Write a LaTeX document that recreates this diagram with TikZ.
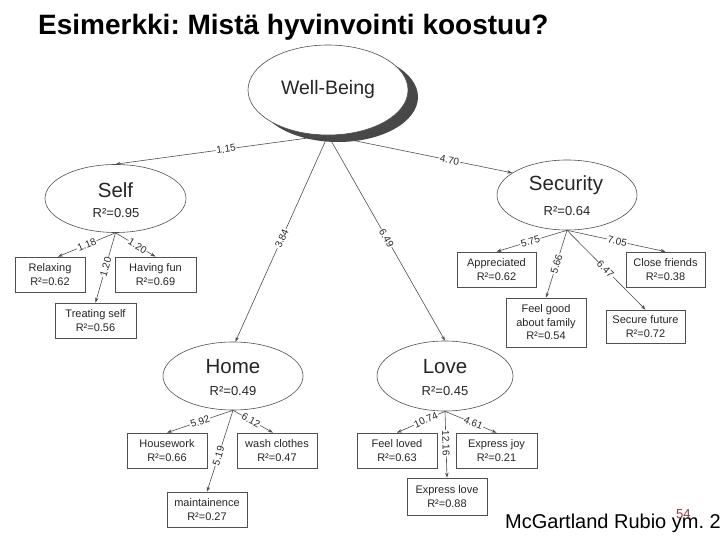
\documentclass[tikz,border=0pt]{standalone}
\usepackage{fontspec}
\setmainfont{Liberation Sans}
\usetikzlibrary{shapes.geometric,arrows.meta}
\definecolor{ink}{HTML}{262626}
\definecolor{linec}{HTML}{505050}
\definecolor{shadowc}{HTML}{484848}
\definecolor{pgnum}{HTML}{8B3A3A}
\frenchspacing
\begin{document}
\begin{tikzpicture}[x=1pt,y=-1pt,
  cat/.style={ellipse, draw=linec, line width=0.6pt, fill=white, inner sep=0pt},
  box/.style={rectangle, draw=linec, line width=0.7pt, fill=white, minimum height=35pt,
    minimum width=80pt, align=center, font=\fontsize{11}{13.5}\selectfont, text=ink, inner sep=1pt},
  cattitle/.style={anchor=base, font=\fontsize{20.5}{21}\selectfont, text=ink, inner sep=0pt},
  catr/.style={anchor=base, font=\fontsize{13}{13}\selectfont, text=ink, inner sep=0pt},
  arr/.style={draw=linec, line width=0.6pt, -{Stealth[length=5pt,width=3.5pt]}},
  elab/.style={sloped, fill=white, inner sep=0.8pt, font=\fontsize{10}{10}\selectfont, text=ink}]
\useasboundingbox (0,0) rectangle (720,540);
\fill[white] (0,0) rectangle (720,540);

% title
\node[anchor=base west, font=\fontsize{28}{28}\selectfont\bfseries, inner sep=0pt] (title) at (38,35)
  {Esimerkki: Mistä hyvinvointi koostuu?};

% Well-Being
\node[ellipse, fill=shadowc, minimum width=160pt, minimum height=90pt, inner sep=0pt] (wbshadow) at (338,97) {};
\node[cat, minimum width=160pt, minimum height=90pt] (wb) at (328,90) {};
\node[cattitle, font=\fontsize{19.5}{20}\selectfont] (wbt) at (328,95) {Well-Being};

% categories
\node[cat, minimum width=141pt, minimum height=68pt] (self) at (115.5,198.5) {};
\node[cattitle] (selft) at (115.5,198) {Self};
\node[catr] (selfr) at (116,218) {R²=0.95};

\node[cat, minimum width=140pt, minimum height=70pt] (sec) at (567,195) {};
\node[cattitle] (sect) at (566,191) {Security};
\node[catr] (secr) at (567,215) {R²=0.64};

\node[cat, minimum width=140pt, minimum height=68pt] (home) at (233,376) {};
\node[cattitle] (homet) at (233,373) {Home};
\node[catr] (homer) at (233,395) {R²=0.49};

\node[cat, minimum width=136pt, minimum height=70pt] (love) at (445,376) {};
\node[cattitle] (lovet) at (445,373) {Love};
\node[catr] (lover) at (445,395) {R²=0.45};

% indicator boxes
\node[box, minimum width=70pt] (relax) at (50,274.5) {Relaxing\\R²=0.62};
\node[box, minimum width=81pt] (fun) at (155.5,274.5) {Having fun\\R²=0.69};
\node[box, minimum width=81pt] (treat) at (95.5,320.5) {Treating self\\R²=0.56};

\node[box, minimum width=79pt] (appr) at (496.5,269.5) {Appreciated\\R²=0.62};
\node[box, minimum width=79pt] (close) at (665.5,269.5) {Close friends\\R²=0.38};
\node[box, minimum width=80pt, minimum height=49pt] (feel) at (546,322.5) {Feel good\\about family\\R²=0.54};
\node[box, minimum width=79pt, minimum height=33pt] (secure) at (645.5,326.5) {Secure future\\R²=0.72};

\node[box] (house) at (167,450.5) {Housework\\R²=0.66};
\node[box] (wash) at (277,450.5) {wash clothes\\R²=0.47};
\node[box] (maint) at (207,509.5) {maintainence\\R²=0.27};

\node[box] (loved) at (397,450.5) {Feel loved\\R²=0.63};
\node[box, minimum width=81pt] (joy) at (496.5,450.5) {Express joy\\R²=0.21};
\node[box, minimum height=37pt] (exlove) at (447,496.5) {Express love\\R²=0.88};

% connectors
\draw[arr] (wb.south) -- node[elab,pos=0.48]{1.15} (self.north);
\draw[arr] (wb.south) -- node[elab,pos=0.66]{4.70} (sec.158);
\draw[arr] (wb.south) -- node[elab,pos=0.5]{3.84} (home.86);
\draw[arr] (wb.south) -- node[elab,pos=0.5]{6.49} (love.north);

\draw[arr] (self.south) -- node[elab,pos=0.5]{1.18} ([xshift=8pt]relax.north);
\draw[arr] (self.south) -- node[elab,pos=0.55]{1.20} (fun.north);
\draw[arr] (self.south) -- node[elab,pos=0.49]{1.20} (treat.north);

\draw[arr] (sec.south) -- node[elab,pos=0.52]{5.75} (appr.north);
\draw[arr] (sec.south) -- node[elab,pos=0.51]{7.05} (close.north);
\draw[arr] (sec.south) -- node[elab,pos=0.5]{5.66} (feel.north);
\draw[arr] (sec.south) -- node[elab,pos=0.49]{6.47} (secure.north);

\draw[arr] (home.south) -- node[elab,pos=0.5]{5.92} (house.north);
\draw[arr] (home.south) -- node[elab,pos=0.45]{6.12} ([xshift=-4pt]wash.north);
\draw[arr] (home.south) -- node[elab,pos=0.56]{5.19} (maint.north);

\draw[arr] (love.south) -- node[elab,pos=0.4]{10.74} (loved.north);
\draw[arr] (love.south) -- node[elab,pos=0.55]{4.61} (joy.north);
\draw[arr] (love.south) -- node[elab,pos=0.48]{12.16} (exlove.north);

% source
\node[anchor=base west, font=\fontsize{20}{20}\selectfont, inner sep=0pt] (cite) at (505,528) {McGartland Rubio ym. 2};
\node[anchor=base west, font=\fontsize{13}{13}\selectfont, text=pgnum, inner sep=0pt] (pnum) at (676,518) {54};
\end{tikzpicture}
\end{document}
